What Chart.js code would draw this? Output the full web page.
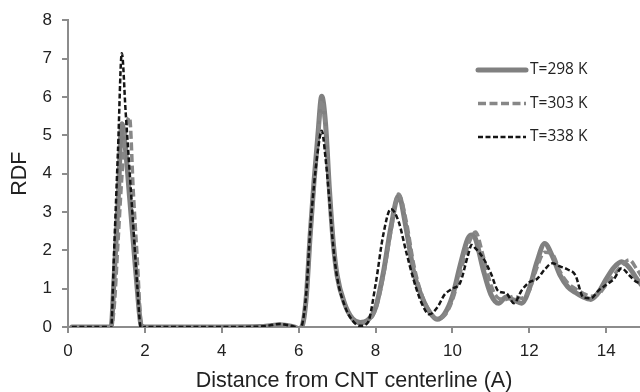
<!DOCTYPE html>
<html>
<head>
<meta charset="utf-8">
<script src="https://cdn.jsdelivr.net/npm/chart.js@4.4.0/dist/chart.umd.min.js"></script>
<style>
  html, body { margin: 0; padding: 0; background: #fff; }
</style>
</head>
<body>
<canvas id="rdfChart" width="640" height="392"></canvas>
<script>
/* RDF vs distance from CNT centerline — three temperatures */

// distance from the CNT centerline (A)
const distance = [
  0.1, 0.5, 1.0, 1.12, 1.2, 1.3, 1.4, 1.5, 1.6, 1.7, 1.8, 1.9, 2.0,
  3.0, 4.0, 5.0, 5.3, 5.5, 5.7, 5.9,
  6.0, 6.1, 6.2, 6.3, 6.4, 6.5, 6.6, 6.7, 6.8, 6.9, 7.0,
  7.2, 7.4, 7.6, 7.8, 8.0, 8.2, 8.4, 8.6, 8.8, 9.0, 9.2, 9.4, 9.6, 9.8, 10.0, 10.2, 10.4,
  10.5, 10.6, 10.8, 11.0, 11.2, 11.4, 11.6, 11.8, 12.0, 12.2, 12.4, 12.6, 12.8, 13.0,
  13.2, 13.4, 13.6, 13.8, 14.0, 14.2, 14.4, 14.6, 14.8, 15.0
];

const rdf298 = [
  0, 0, 0, 0, 1.3, 3.2, 5.3, 4.6, 3.4, 2.2, 1.0, 0.05, 0,
  0, 0, 0.01, 0.04, 0.06, 0.04, 0.0,
  -0.05, 0.05, 0.8, 2.4, 3.8, 5.0, 6.02, 5.3, 3.6, 2.2, 1.35,
  0.6, 0.22, 0.12, 0.18, 0.5, 1.4, 2.6, 3.42, 2.55, 1.4, 0.8, 0.4, 0.2, 0.35, 0.8, 1.6, 2.3,
  2.4, 2.3, 1.5, 0.85, 0.62, 0.78, 0.7, 0.62, 1.0, 1.7, 2.18, 1.85, 1.35, 1.05,
  0.9, 0.78, 0.72, 0.9, 1.25, 1.55, 1.7, 1.55, 1.25, 1.0
];

const rdf303 = [
  0, 0, 0, 0, 0.5, 2.2, 3.9, 5.1, 5.47, 3.5, 1.8, 0.15, 0,
  0, 0, 0.01, 0.04, 0.06, 0.04, 0.0,
  -0.05, 0.05, 0.8, 2.3, 3.7, 4.9, 5.9, 5.2, 3.6, 2.2, 1.35,
  0.6, 0.2, 0.1, 0.15, 0.45, 1.3, 2.5, 3.47, 2.75, 1.6, 0.85, 0.42, 0.22, 0.3, 0.7, 1.4, 2.1,
  2.35, 2.48, 1.85, 1.1, 0.75, 0.72, 0.8, 0.75, 0.95, 1.55, 1.95, 1.9, 1.45, 1.15,
  1.0, 0.88, 0.8, 0.85, 1.1, 1.35, 1.6, 1.75, 1.5, 1.2
];

const rdf338 = [
  0, 0, 0, -0.05, 2.0, 4.6, 7.14, 5.6, 4.1, 2.6, 1.1, -0.05, 0,
  0, 0, 0.01, 0.05, 0.08, 0.05, 0.0,
  -0.07, 0.1, 0.9, 2.5, 3.7, 4.6, 5.12, 4.4, 3.3, 2.1, 1.3,
  0.55, 0.17, 0.03, 0.12, 1.1, 2.4, 3.08, 2.75, 1.95, 1.2, 0.62, 0.33, 0.5, 0.85, 1.0, 1.15, 1.85,
  2.14, 2.05, 1.8, 1.4, 0.93, 0.88, 0.62, 0.95, 1.17, 1.25, 1.5, 1.66, 1.58, 1.5,
  1.35, 0.78, 0.75, 0.95, 1.1, 1.25, 1.53, 1.35, 1.17, 1.14
];

const seriesLabels = ['T=298 K', 'T=303 K', 'T=338 K'];
const xRange = [0, 14.88];
const yRange = [0, 8];

const toPoints = ys => distance.map((x, i) => ({ x: x, y: ys[i] }));

const axisColor = '#8c8c8c';
const textColor = '#222222';

// legend sits inside the plot, top right
const insideLegend = {
  id: 'insideLegend',
  afterDatasetsDraw(chart) {
    const ctx = chart.ctx;
    ctx.save();
    chart.data.datasets.forEach((ds, i) => {
      const y = 70 + i * 33.5;
      ctx.beginPath();
      ctx.strokeStyle = ds.borderColor;
      ctx.lineWidth = ds.borderWidth;
      ctx.lineCap = ds.borderCapStyle || 'butt';
      ctx.setLineDash(ds.borderDash || []);
      ctx.moveTo(478, y);
      ctx.lineTo(526, y);
      ctx.stroke();
      ctx.setLineDash([]);
      ctx.fillStyle = textColor;
      ctx.font = '15.5px "Open Sans"';
      ctx.textBaseline = 'middle';
      ctx.fillText(ds.label, 530, y);
    });
    ctx.restore();
  }
};

new Chart(document.getElementById('rdfChart'), {
  type: 'line',
  data: {
    datasets: [
      {
        label: seriesLabels[0],
        data: toPoints(rdf298),
        borderColor: '#808080',
        borderWidth: 5,
        borderCapStyle: 'round',
        order: 2,
      },
      {
        label: seriesLabels[1],
        data: toPoints(rdf303),
        borderColor: '#878787',
        borderWidth: 3.5,
        borderDash: [8, 3.5],
        order: 1,
      },
      {
        label: seriesLabels[2],
        data: toPoints(rdf338),
        borderColor: '#151515',
        borderWidth: 2.5,
        borderDash: [5, 2.5],
        order: 0,
      },
    ],
  },
  options: {
    responsive: false,
    animation: false,
    devicePixelRatio: 1,
    layout: { padding: { top: 19, left: 0, right: 0, bottom: 0 } },
    elements: {
      point: { radius: 0 },
      line: { cubicInterpolationMode: 'monotone', fill: false },
    },
    plugins: { legend: { display: false }, tooltip: { enabled: false } },
    scales: {
      x: {
        type: 'linear',
        min: xRange[0],
        max: xRange[1],
        afterFit(scale) { scale.height = 65; },
        border: { color: axisColor, width: 2 },
        grid: { drawOnChartArea: false, tickLength: 6, color: axisColor, lineWidth: 2 },
        ticks: { stepSize: 2, includeBounds: false, padding: 8, color: textColor, font: { family: 'Liberation Sans', size: 17 } },
        title: {
          display: true,
          text: 'Distance from CNT centerline (A)',
          color: textColor,
          padding: { top: 0, bottom: 0 },
          font: { family: 'Liberation Sans', size: 21.5, lineHeight: 1 },
        },
      },
      y: {
        min: yRange[0],
        max: yRange[1],
        afterFit(scale) { scale.width = 68; },
        border: { color: axisColor, width: 2 },
        grid: { drawOnChartArea: false, tickLength: 6, color: axisColor, lineWidth: 2 },
        ticks: { stepSize: 1, padding: 10, color: textColor, font: { family: 'Liberation Sans', size: 17 } },
        title: {
          display: true,
          text: 'RDF',
          color: textColor,
          padding: { top: 9, bottom: 0 },
          font: { family: 'Liberation Sans', size: 21.5, lineHeight: 1 },
        },
      },
    },
  },
  plugins: [insideLegend],
});
</script>
</body>
</html>
